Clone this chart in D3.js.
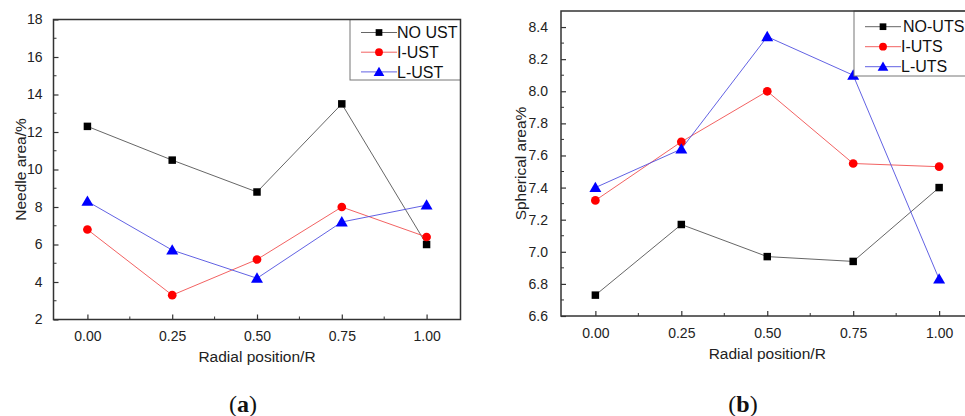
<!DOCTYPE html>
<html>
<head>
<meta charset="utf-8">
<script src="https://cdn.jsdelivr.net/npm/d3@7"></script>
<style>
  html, body { margin: 0; padding: 0; background: #fff; }
  svg { display: block; font-family: "Liberation Sans", Arial, sans-serif; }
</style>
</head>
<body>
<svg id="chart" width="965" height="416"></svg>
<script>
// ---- Data ----
const radial = [0.00, 0.25, 0.50, 0.75, 1.00];
const xTickLabels = ["0.00", "0.25", "0.50", "0.75", "1.00"];

// Panel (a): Needle area /%
const needleNoUST = [12.3, 10.5, 8.8, 13.5, 6.0];
const needleIUST  = [6.8, 3.3, 5.2, 8.0, 6.4];
const needleLUST  = [8.3, 5.7, 4.2, 7.2, 8.1];
const needleNames = ["NO UST", "I-UST", "L-UST"];
const needleYTicks = [2, 4, 6, 8, 10, 12, 14, 16, 18];

// Panel (b): Spherical area %
const spherNoUTS = [6.73, 7.17, 6.97, 6.94, 7.40];
const spherIUTS  = [7.32, 7.685, 8.00, 7.55, 7.53];
const spherLUTS  = [7.40, 7.64, 8.34, 8.10, 6.83];
const spherNames = ["NO-UTS", "I-UTS", "L-UTS"];
const spherYTicks = [6.6, 6.8, 7.0, 7.2, 7.4, 7.6, 7.8, 8.0, 8.2, 8.4];

const seriesColors = ["#000000", "#ff0000", "#0000ff"];
const lineColors = ["#555555", "#f05050", "#5050e0"];
const markerShapes = [d3.symbolSquare, d3.symbolCircle, d3.symbolTriangle];
const markerSizes = [56, 60, 62];
const FONT = "'Liberation Sans', Arial, sans-serif";

const svg = d3.select("#chart");

function drawPanel(cfg) {
  const g = svg.append("g").attr("font-family", FONT);
  const x = d3.scaleLinear().domain([-0.1, 1.1]).range([cfg.left, cfg.left + cfg.width]);
  const y = d3.scaleLinear().domain(cfg.yDomain).range([cfg.top + cfg.height, cfg.top]);

  // minor x ticks
  const xMinor = d3.range(0.125, 1.1, 0.25);
  g.selectAll(".xminor").data(xMinor).join("line")
    .attr("x1", d => x(d)).attr("x2", d => x(d))
    .attr("y1", y.range()[0]).attr("y2", y.range()[0] - 3)
    .attr("stroke", "#333").attr("stroke-width", 1);

  // major x ticks via axis (inward)
  const xAxis = d3.axisBottom(x).tickValues(radial)
    .tickFormat((d, i) => xTickLabels[i]).tickSizeInner(-5).tickSizeOuter(0).tickPadding(12);
  const xg = g.append("g").attr("transform", `translate(0,${y.range()[0]})`).call(xAxis);
  xg.attr("font-family", FONT);
  xg.select(".domain").remove();
  xg.selectAll(".tick line").attr("stroke", "#333").attr("stroke-width", 1.2);
  xg.selectAll(".tick text").attr("font-size", 14).attr("fill", "#222");

  // minor y ticks
  const step = cfg.yTicks[1] - cfg.yTicks[0];
  const yMinor = cfg.yTicks.map(v => v + step / 2).filter(v => v < cfg.yDomain[1]);
  g.selectAll(".yminor").data(yMinor).join("line")
    .attr("x1", cfg.left).attr("x2", cfg.left + 3)
    .attr("y1", d => y(d)).attr("y2", d => y(d))
    .attr("stroke", "#333").attr("stroke-width", 1);

  const yAxis = d3.axisLeft(y).tickValues(cfg.yTicks).tickFormat(cfg.yFormat)
    .tickSizeInner(-5).tickSizeOuter(0).tickPadding(cfg.yPad);
  const yg = g.append("g").attr("transform", `translate(${cfg.left},0)`).call(yAxis);
  yg.attr("font-family", FONT);
  yg.select(".domain").remove();
  yg.selectAll(".tick line").attr("stroke", "#333").attr("stroke-width", 1.2);
  yg.selectAll(".tick text").attr("font-size", 14).attr("fill", "#222");

  // series
  const line = d3.line().x((d, i) => x(radial[i])).y(d => y(d));
  cfg.series.forEach((vals, si) => {
    g.append("path").datum(vals).attr("d", line)
      .attr("fill", "none").attr("stroke", lineColors[si]).attr("stroke-width", 0.9);
  });
  cfg.series.forEach((vals, si) => {
    g.selectAll(".m" + si).data(vals).join("path")
      .attr("transform", (d, i) => `translate(${x(radial[i])},${y(d) + (si === 2 ? 1 : 0)})`)
      .attr("d", d3.symbol().type(markerShapes[si]).size(markerSizes[si]))
      .attr("fill", seriesColors[si]);
  });

  // legend
  const lg = g.append("g");
  lg.append("rect").attr("x", cfg.legX).attr("y", cfg.top)
    .attr("width", cfg.legW).attr("height", cfg.legH)
    .attr("fill", "#fff").attr("stroke", "#777").attr("stroke-width", 1);
  cfg.names.forEach((nm, si) => {
    const ly = cfg.top + cfg.legY0 + si * cfg.legDy;
    lg.append("line").attr("x1", cfg.legX + 11).attr("x2", cfg.legX + 47)
      .attr("y1", ly).attr("y2", ly).attr("stroke", lineColors[si]).attr("stroke-width", 0.9);
    lg.append("path").attr("transform", `translate(${cfg.legX + 29},${ly + (si === 2 ? 1 : 0)})`)
      .attr("d", d3.symbol().type(markerShapes[si]).size(markerSizes[si] * 0.8))
      .attr("fill", seriesColors[si]);
    lg.append("text").attr("x", cfg.legX + 47 + (si === 0 ? cfg.legGap0 : 0)).attr("y", ly)
      .attr("dy", "0.36em").attr("font-size", 16).attr("fill", "#111").text(nm);
  });

  // frame
  g.append("rect").attr("x", cfg.left).attr("y", cfg.top)
    .attr("width", cfg.width).attr("height", cfg.height)
    .attr("fill", "none").attr("stroke", "#333").attr("stroke-width", 1.5);

  // axis titles
  g.append("text").attr("x", x(0.5)).attr("y", cfg.xTitleY)
    .attr("text-anchor", "middle").attr("dy", "0.36em")
    .attr("font-size", 15.5).attr("fill", "#222").text("Radial position/R");
  g.append("text").attr("transform", `translate(${cfg.yTitleX},${cfg.top + cfg.height / 2}) rotate(-90)`)
    .attr("text-anchor", "middle").attr("dy", "0.36em")
    .attr("font-size", 15.5).attr("fill", "#222").text(cfg.yTitle);

  // caption
  const cap = g.append("text").attr("x", cfg.capX).attr("y", 403)
    .attr("text-anchor", "middle").attr("dy", "0.36em")
    .attr("font-family", "'Liberation Serif', 'DejaVu Serif', serif").attr("font-size", 24).attr("fill", "#111");
  cap.append("tspan").text("(");
  cap.append("tspan").attr("font-weight", "bold").text(cfg.capLetter);
  cap.append("tspan").text(")");
}

drawPanel({
  id: "a", left: 53.5, top: 19.5, width: 407, height: 300,
  yDomain: [2, 18], yTicks: needleYTicks, yFormat: d3.format("d"), yPad: 11,
  series: [needleNoUST, needleIUST, needleLUST], names: needleNames,
  legX: 350, legW: 110.5, legH: 60.5, legY0: 13, legDy: 19.7, legGap0: 0,
  xTitleY: 356, yTitleX: 20, yTitle: "Needle area/%", capX: 243, capLetter: "a"
});

drawPanel({
  id: "b", left: 561, top: 11, width: 412.5, height: 305,
  yDomain: [6.6, 8.5], yTicks: spherYTicks, yFormat: d3.format(".1f"), yPad: 13,
  series: [spherNoUTS, spherIUTS, spherLUTS], names: spherNames,
  legX: 854, legW: 130, legH: 65, legY0: 15.7, legDy: 20, legGap0: 2,
  xTitleY: 353, yTitleX: 520, yTitle: "Spherical area%", capX: 743, capLetter: "b"
});
</script>
</body>
</html>
